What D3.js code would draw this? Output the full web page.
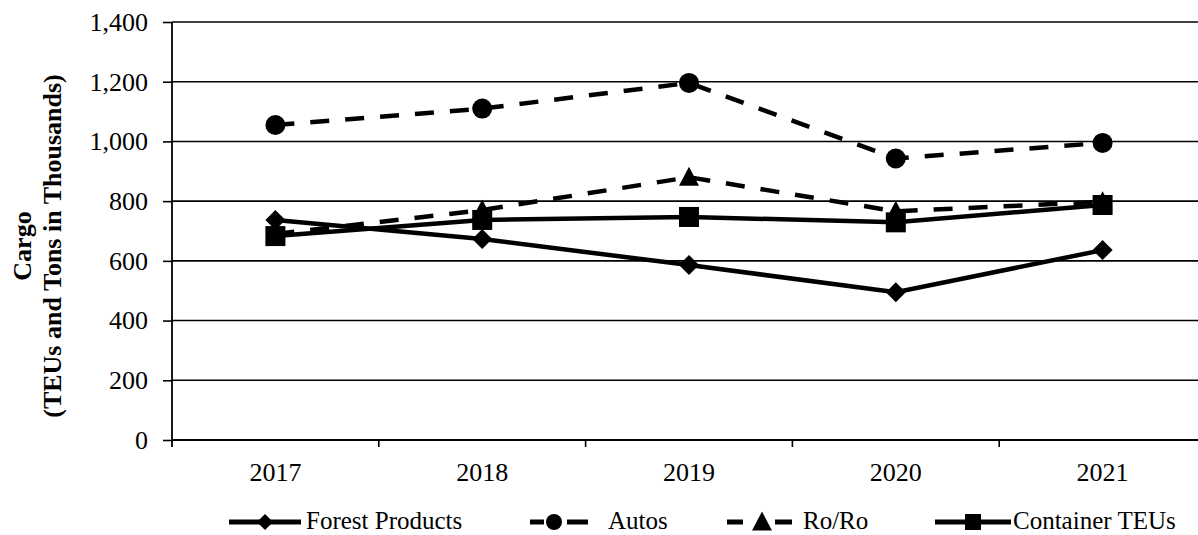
<!DOCTYPE html>
<html>
<head>
<meta charset="utf-8">
<script src="https://cdn.jsdelivr.net/npm/d3@7"></script>
<style>
  html, body { margin: 0; padding: 0; background: #fff; }
  svg { display: block; font-family: "Liberation Serif", "Times New Roman", serif; }
</style>
</head>
<body>
<svg id="chart" width="1198" height="535"></svg>
<script>
// Cargo volumes (thousands of TEUs / tons)
const years = ["2017", "2018", "2019", "2020", "2021"];
const forestProducts = [737, 673, 586, 495, 636];
const autos = [1055, 1110, 1196, 943, 995];
const roRo = [690, 770, 880, 766, 798];
const containerTEUs = [683, 737, 747, 729, 787];
const yTicks = [0, 200, 400, 600, 800, 1000, 1200, 1400];

const series = [
  { name: "Forest Products", values: forestProducts, dashed: false, marker: "diamond" },
  { name: "Autos", values: autos, dashed: true, marker: "circle" },
  { name: "Ro/Ro", values: roRo, dashed: true, marker: "triangle" },
  { name: "Container TEUs", values: containerTEUs, dashed: false, marker: "square" }
];

const svg = d3.select("#chart");
const plotLeft = 172, plotRight = 1206, plotTop = 22, plotBottom = 440;

const x = d3.scaleBand().domain(years).range([plotLeft, plotRight]).padding(0);
const y = d3.scaleLinear().domain([0, 1400]).range([plotBottom, plotTop]);

// horizontal gridlines
svg.append("g").selectAll("line")
  .data(yTicks.filter(d => d > 0))
  .join("line")
  .attr("x1", plotLeft).attr("x2", plotRight)
  .attr("y1", d => y(d)).attr("y2", d => y(d))
  .attr("stroke", "#000").attr("stroke-width", 1.6);

// y axis
const yAxis = svg.append("g")
  .attr("transform", `translate(${plotLeft},0)`)
  .call(d3.axisLeft(y).tickValues(yTicks).tickSize(9).tickPadding(15)
    .tickFormat(d3.format(",")));
yAxis.select(".domain").remove();
yAxis.selectAll(".tick line").attr("stroke", "#000").attr("stroke-width", 1.6);
yAxis.selectAll(".tick text")
  .attr("font-size", 26).attr("fill", "#000")
  .attr("font-family", "Liberation Serif, Times New Roman, serif");
svg.append("line")
  .attr("x1", plotLeft).attr("x2", plotLeft)
  .attr("y1", plotTop).attr("y2", plotBottom + 7)
  .attr("stroke", "#000").attr("stroke-width", 1.8);

// x axis with ticks between categories
const xAxis = svg.append("g").attr("transform", `translate(0,${plotBottom})`);
xAxis.append("line")
  .attr("x1", plotLeft).attr("x2", plotRight)
  .attr("stroke", "#000").attr("stroke-width", 2);
xAxis.selectAll("line.tk")
  .data(years.slice(1))
  .join("line").attr("class", "tk")
  .attr("x1", d => x(d)).attr("x2", d => x(d))
  .attr("y1", 0).attr("y2", 7)
  .attr("stroke", "#000").attr("stroke-width", 1.6);
xAxis.selectAll("text")
  .data(years)
  .join("text")
  .attr("x", d => x(d) + x.bandwidth() / 2)
  .attr("y", 40.5)
  .attr("text-anchor", "middle")
  .attr("font-size", 26)
  .text(d => d);

// y-axis title
const title = svg.append("text")
  .attr("transform", "translate(0,246) rotate(-90)")
  .attr("text-anchor", "middle")
  .attr("font-size", 26)
  .attr("font-weight", "bold");
title.append("tspan").attr("x", 0).attr("y", 31).text("Cargo");
title.append("tspan").attr("x", 0).attr("y", 61).text("(TEUs and Tons in Thousands)");

// marker shapes
function markerPath(type, s) {
  const h = s / 2;
  if (type === "diamond") return `M0,${-h}L${h},0L0,${h}L${-h},0Z`;
  if (type === "square") return `M${-h},${-h}H${h}V${h}H${-h}Z`;
  if (type === "triangle") {
    const th = s * 0.95;
    return `M0,${-th / 2 - 1}L${h},${th / 2 - 1}L${-h},${th / 2 - 1}Z`;
  }
  return null;
}
function drawMarker(g, type, cx, cy, s) {
  if (type === "circle") {
    g.append("circle").attr("cx", cx).attr("cy", cy).attr("r", s / 2).attr("fill", "#000");
  } else {
    g.append("path").attr("d", markerPath(type, s))
      .attr("transform", `translate(${cx},${cy})`).attr("fill", "#000");
  }
}

const cx = (d, i) => x(years[i]) + x.bandwidth() / 2;
const line = d3.line().x(cx).y(d => y(d));

series.forEach(s => {
  const g = svg.append("g");
  g.append("path")
    .datum(s.values)
    .attr("d", line)
    .attr("fill", "none")
    .attr("stroke", "#000")
    .attr("stroke-width", 4.5)
    .attr("stroke-dasharray", s.dashed ? "19,16" : null);
  s.values.forEach((v, i) => drawMarker(g, s.marker, cx(v, i), y(v), 20));
});

// legend
const legendY = 522;
const legendItems = [
  { s: series[0], x0: 229, x1: 301, mx: 265, dash: null, tx: 306 },
  { s: series[1], x0: 530, x1: 588, mx: 554, dash: "14,23,21", tx: 608 },
  { s: series[2], x0: 727, x1: 792, mx: 762, dash: "16,32,17", tx: 803 },
  { s: series[3], x0: 935, x1: 1011, mx: 973, dash: null, tx: 1013 }
];
const lg = svg.append("g");
legendItems.forEach(it => {
  lg.append("line")
    .attr("x1", it.x0).attr("x2", it.x1)
    .attr("y1", legendY).attr("y2", legendY)
    .attr("stroke", "#000").attr("stroke-width", 5)
    .attr("stroke-dasharray", it.dash);
  drawMarker(lg, it.s.marker, it.mx, legendY, it.s.marker === "triangle" ? 20 : 16);
  lg.append("text")
    .attr("x", it.tx).attr("y", legendY + 7)
    .attr("font-size", 25)
    .text(it.s.name);
});
</script>
</body>
</html>
